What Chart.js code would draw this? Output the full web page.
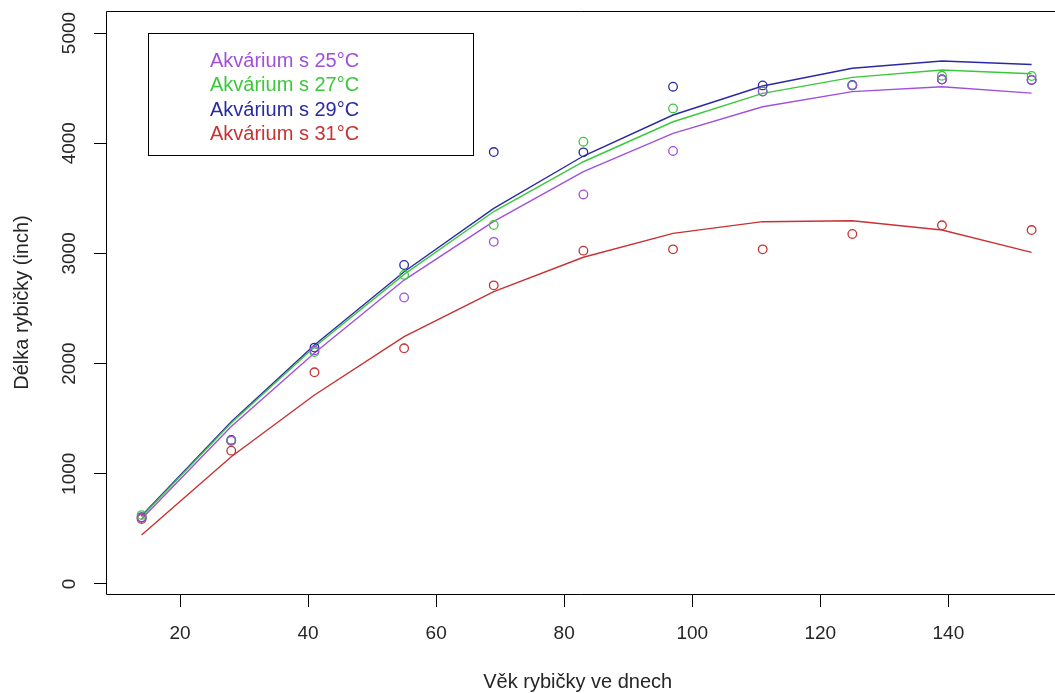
<!DOCTYPE html>
<html>
<head>
<meta charset="utf-8">
<script src="https://cdn.jsdelivr.net/npm/chart.js@4.4.0/dist/chart.umd.min.js"></script>
<style>
  html, body { margin: 0; padding: 0; background: #fff; overflow: hidden; }
  #wrap { width: 1055px; height: 693px; }
</style>
</head>
<body>
<div id="wrap"><canvas id="graf" width="1055" height="693"></canvas></div>
<script>
// Data
const days = [14, 28, 41, 55, 69, 83, 97, 111, 125, 139, 153];

const seriesNames = ["Akvárium s 25°C", "Akvárium s 27°C", "Akvárium s 29°C", "Akvárium s 31°C"];
const seriesColors = ["#A050DC", "#3CC83C", "#2A2AA5", "#C83232"];

// namerene delky
const obs25 = [600, 1300, 2120, 2600, 3105, 3535, 3930, 4470, 4525, 4580, 4575];
const obs27 = [625, 1300, 2105, 2805, 3258, 4014, 4316, 4470, 4525, 4612, 4610];
const obs29 = [605, 1307, 2145, 2895, 3920, 3917, 4513, 4525, 4528, 4578, 4574];
const obs31 = [590, 1210, 1921, 2139, 2710, 3025, 3037, 3037, 3176, 3255, 3212];

// prolozene krivky
const fit25 = [590, 1430, 2096, 2758, 3290, 3742, 4090, 4331, 4468, 4513, 4455];
const fit27 = [610, 1460, 2150, 2810, 3380, 3832, 4195, 4453, 4598, 4664, 4630];
const fit29 = [620, 1473, 2169, 2834, 3409, 3884, 4256, 4519, 4680, 4746, 4714];
const fit31 = [445, 1155, 1715, 2244, 2653, 2965, 3182, 3288, 3297, 3212, 3010];

const xTicks = [20, 40, 60, 80, 100, 120, 140];
const yTicks = [0, 1000, 2000, 3000, 4000, 5000];

const xTitle = "Věk rybičky ve dnech";
const yTitle = "Délka rybičky (inch)";

const FONT = "'Liberation Sans', Arial, sans-serif";
const TEXT = "#262626";

const toXY = (vals) => vals.map((v, i) => ({ x: days[i], y: v }));

const observed = [obs25, obs27, obs29, obs31];
const fitted = [fit25, fit27, fit29, fit31];

const datasets = [];
observed.forEach((vals, i) => {
  datasets.push({
    label: seriesNames[i],
    data: toXY(vals),
    showLine: false,
    pointStyle: "circle",
    pointRadius: 4.3,
    pointBorderWidth: 1.3,
    pointBorderColor: seriesColors[i],
    pointBackgroundColor: "rgba(0,0,0,0)",
  });
});
fitted.forEach((vals, i) => {
  datasets.push({
    label: seriesNames[i] + " fit",
    data: toXY(vals),
    showLine: true,
    borderColor: seriesColors[i],
    borderWidth: 1.4,
    pointRadius: 0,
    tension: 0,
  });
});

// Ramecek (prava strana je mimo obrazek) a legenda jako v R
const boxPlugin = {
  id: "rbox",
  afterDraw(chart) {
    const { ctx, chartArea: a, width } = chart;
    ctx.save();
    ctx.strokeStyle = "#000";
    ctx.lineWidth = 1;
    ctx.beginPath();
    ctx.moveTo(width, a.top + 0.5);
    ctx.lineTo(a.left + 0.5, a.top + 0.5);
    ctx.lineTo(a.left + 0.5, a.bottom + 0.5);
    ctx.lineTo(width, a.bottom + 0.5);
    ctx.stroke();

    ctx.strokeRect(148.5, 33.5, 325, 122);
    ctx.font = "20px " + FONT;
    ctx.textBaseline = "alphabetic";
    ctx.textAlign = "left";
    seriesNames.forEach((name, i) => {
      ctx.fillStyle = seriesColors[i];
      ctx.fillText(name, 210, 67 + i * 24.4);
    });
    ctx.restore();
  },
};

new Chart(document.getElementById("graf"), {
  type: "scatter",
  data: { datasets },
  plugins: [boxPlugin],
  options: {
    responsive: false,
    animation: false,
    events: [],
    layout: { padding: { left: 0, right: 0, top: 11, bottom: 0 } },
    plugins: { legend: { display: false }, tooltip: { enabled: false } },
    scales: {
      x: {
        type: "linear",
        min: 8.44,
        max: 155.78,
        afterBuildTicks: (s) => { s.ticks = xTicks.map((v) => ({ value: v })); },
        afterFit: (s) => { s.height = 99; s.paddingLeft = 0; s.paddingRight = 0; },
        border: { display: false },
        grid: { drawOnChartArea: false, tickLength: 13, tickColor: "#000", tickWidth: 1 },
        ticks: { font: { family: FONT, size: 19 }, color: TEXT, padding: 15, maxRotation: 0, autoSkip: false, callback: (v) => String(v) },
        title: { display: true, text: xTitle, color: TEXT, font: { family: FONT, size: 20, lineHeight: 1 }, padding: { top: 0, bottom: 1 } },
      },
      y: {
        type: "linear",
        min: -91,
        max: 5200,
        afterBuildTicks: (s) => { s.ticks = yTicks.map((v) => ({ value: v })); },
        afterFit: (s) => { s.width = 106; s.paddingTop = 0; s.paddingBottom = 0; },
        border: { display: false },
        grid: { drawOnChartArea: false, tickLength: 12, tickColor: "#000", tickWidth: 1 },
        ticks: { font: { family: FONT, size: 19 }, color: TEXT, padding: 3, minRotation: 90, maxRotation: 90, crossAlign: "center", autoSkip: false, callback: (v) => String(v) },
        title: { display: true, text: yTitle, color: TEXT, font: { family: FONT, size: 20, lineHeight: 1 }, padding: { top: 12, bottom: 0 } },
      },
    },
  },
});
</script>
</body>
</html>
